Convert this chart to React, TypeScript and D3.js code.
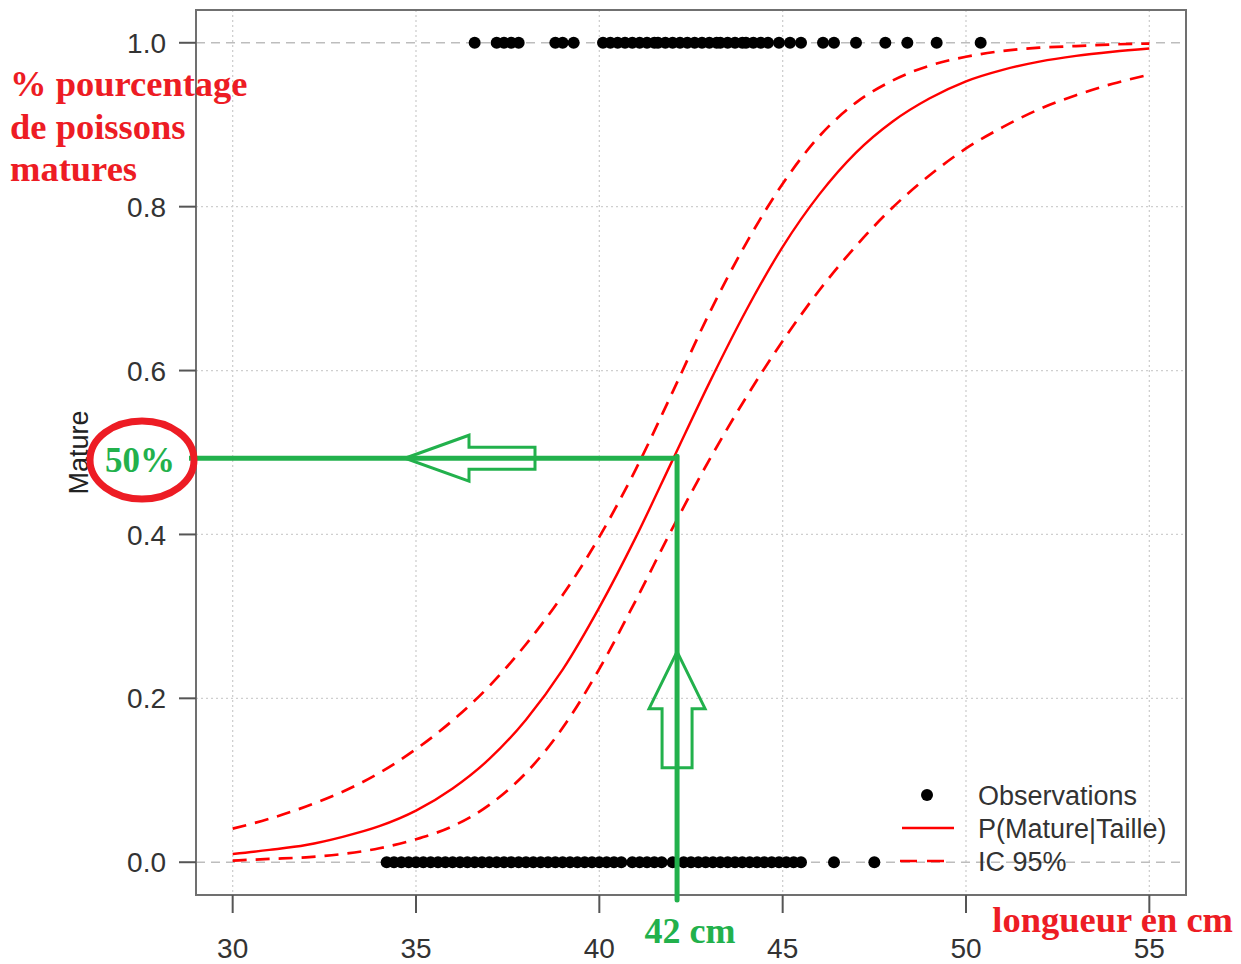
import React, { useRef, useEffect } from "react";
import * as d3 from "d3";

// longueur (cm) et probabilités
const lengths = [30, 31, 32, 33, 34, 35, 36, 37, 38, 39, 40, 41, 42, 43, 44, 45, 46, 47, 48, 49, 50, 51, 52, 53, 54, 55];
const fitted = [0.010, 0.015, 0.021, 0.031, 0.044, 0.063, 0.090, 0.126, 0.174, 0.235, 0.311, 0.397, 0.491, 0.585, 0.673, 0.751, 0.815, 0.866, 0.904, 0.932, 0.953, 0.967, 0.977, 0.984, 0.989, 0.993];
const upperCI = [0.041, 0.053, 0.068, 0.086, 0.109, 0.138, 0.173, 0.215, 0.266, 0.326, 0.397, 0.480, 0.574, 0.670, 0.755, 0.828, 0.886, 0.927, 0.954, 0.972, 0.983, 0.990, 0.994, 0.996, 0.998, 0.999];
const lowerCI = [0.002, 0.004, 0.006, 0.010, 0.017, 0.028, 0.044, 0.070, 0.109, 0.164, 0.236, 0.320, 0.408, 0.491, 0.567, 0.636, 0.698, 0.752, 0.799, 0.838, 0.871, 0.897, 0.919, 0.936, 0.950, 0.961];

// observations
const matureX = [36.6, 37.2, 37.4, 37.6, 37.8, 38.8, 39.0, 39.3, 40.1, 40.3, 40.5, 40.7, 40.9, 41.1, 41.3, 41.5, 41.6, 41.8, 42.0, 42.2, 42.4, 42.6, 42.8, 43.0, 43.2, 43.3, 43.5, 43.7, 43.9, 44.0, 44.2, 44.4, 44.6, 44.9, 45.2, 45.5, 46.1, 46.4, 47.0, 47.8, 48.4, 49.2, 50.4];
const immatureX = [34.2, 34.4, 34.6, 34.8, 35.0, 35.2, 35.4, 35.6, 35.8, 36.0, 36.2, 36.4, 36.6, 36.8, 37.0, 37.2, 37.4, 37.6, 37.8, 38.0, 38.2, 38.4, 38.6, 38.8, 39.0, 39.2, 39.4, 39.6, 39.8, 40.0, 40.2, 40.4, 40.6, 40.9, 41.1, 41.3, 41.5, 41.7, 42.0, 42.3, 42.5, 42.7, 42.9, 43.1, 43.3, 43.5, 43.7, 43.9, 44.1, 44.3, 44.5, 44.7, 44.9, 45.1, 45.3, 45.5, 46.4, 47.5];

const xTicks = [30, 35, 40, 45, 50, 55];
const yTicks = [0, 0.2, 0.4, 0.6, 0.8, 1.0];
const legendLabels = ["Observations", "P(Mature|Taille)", "IC 95%"];

// repères de l'annotation (L50)
const L50 = 42.12;
const P50 = 0.493;

function App() {
  const svgRef = useRef(null);

  useEffect(() => {
    const svg = d3.select(svgRef.current);
    svg.selectAll("*").remove();

    const left = 196, right = 1186, top = 10, bottom = 895;
    const x = d3.scaleLinear().domain([29, 56]).range([left, right]);
    const y = d3.scaleLinear().domain([-0.04, 1.04]).range([bottom, top]);

    const sans = "'Liberation Sans', Arial, sans-serif";
    const serif = "'Liberation Serif', 'Times New Roman', serif";
    const red = "#ff0000";
    const green = "#22b14c";
    const annRed = "#ed1c24";

    // grille
    const grid = svg.append("g");
    grid.selectAll("line.v")
      .data(xTicks)
      .join("line")
      .attr("x1", (d) => x(d)).attr("x2", (d) => x(d))
      .attr("y1", top).attr("y2", bottom)
      .attr("stroke", "#cfcfcf").attr("stroke-width", 1.3)
      .attr("stroke-dasharray", "2 3");
    grid.selectAll("line.h")
      .data(yTicks.filter((d) => d > 0 && d < 1))
      .join("line")
      .attr("x1", left).attr("x2", right)
      .attr("y1", (d) => y(d)).attr("y2", (d) => y(d))
      .attr("stroke", "#cfcfcf").attr("stroke-width", 1.3)
      .attr("stroke-dasharray", "2 3");
    grid.selectAll("line.ref")
      .data([0, 1])
      .join("line")
      .attr("x1", left).attr("x2", right)
      .attr("y1", (d) => y(d)).attr("y2", (d) => y(d))
      .attr("stroke", "#bdbdbd").attr("stroke-width", 1.6)
      .attr("stroke-dasharray", "9 6");

    // courbes
    const line = (vals) =>
      d3.line()
        .x((d, i) => x(lengths[i]))
        .y((d) => y(d))
        .curve(d3.curveMonotoneX)(vals);

    svg.append("path").attr("d", line(upperCI)).attr("fill", "none")
      .attr("stroke", red).attr("stroke-width", 2.7).attr("stroke-dasharray", "14 9");
    svg.append("path").attr("d", line(lowerCI)).attr("fill", "none")
      .attr("stroke", red).attr("stroke-width", 2.7).attr("stroke-dasharray", "14 9");
    svg.append("path").attr("d", line(fitted)).attr("fill", "none")
      .attr("stroke", red).attr("stroke-width", 2.4);

    // observations
    const pts = svg.append("g");
    pts.selectAll("circle.m")
      .data(matureX)
      .join("circle")
      .attr("cx", (d) => x(d)).attr("cy", y(1)).attr("r", 6).attr("fill", "#000");
    pts.selectAll("circle.i")
      .data(immatureX)
      .join("circle")
      .attr("cx", (d) => x(d)).attr("cy", y(0)).attr("r", 6).attr("fill", "#000");

    // cadre
    svg.append("rect")
      .attr("x", left).attr("y", top)
      .attr("width", right - left).attr("height", bottom - top)
      .attr("fill", "none").attr("stroke", "#707070").attr("stroke-width", 2);

    // axe x
    const xAxis = svg.append("g");
    xAxis.selectAll("line")
      .data(xTicks)
      .join("line")
      .attr("x1", (d) => x(d)).attr("x2", (d) => x(d))
      .attr("y1", bottom).attr("y2", bottom + 18)
      .attr("stroke", "#555").attr("stroke-width", 2);
    xAxis.selectAll("text")
      .data(xTicks)
      .join("text")
      .attr("x", (d) => x(d)).attr("y", 958)
      .attr("text-anchor", "middle")
      .attr("font-family", sans).attr("font-size", 28).attr("fill", "#333")
      .text((d) => d);

    // axe y
    const yAxis = svg.append("g");
    yAxis.selectAll("line")
      .data(yTicks)
      .join("line")
      .attr("x1", left - 17).attr("x2", left)
      .attr("y1", (d) => y(d)).attr("y2", (d) => y(d))
      .attr("stroke", "#555").attr("stroke-width", 2);
    yAxis.selectAll("text")
      .data(yTicks)
      .join("text")
      .attr("x", 166).attr("y", (d) => y(d)).attr("dy", "0.36em")
      .attr("text-anchor", "end")
      .attr("font-family", sans).attr("font-size", 28).attr("fill", "#333")
      .text((d) => d3.format(".1f")(d));
    svg.append("text")
      .attr("transform", `translate(88,${y(0.5)}) rotate(-90)`)
      .attr("text-anchor", "middle")
      .attr("font-family", sans).attr("font-size", 27).attr("fill", "#222")
      .text("Mature");

    // légende
    const lg = svg.append("g").attr("font-family", sans).attr("font-size", 27).attr("fill", "#333");
    const lgY = [795, 828, 861];
    lg.append("circle").attr("cx", 927).attr("cy", lgY[0]).attr("r", 6).attr("fill", "#000");
    lg.append("line").attr("x1", 902).attr("x2", 954).attr("y1", lgY[1]).attr("y2", lgY[1])
      .attr("stroke", red).attr("stroke-width", 2.6);
    lg.append("line").attr("x1", 900).attr("x2", 954).attr("y1", lgY[2]).attr("y2", lgY[2])
      .attr("stroke", red).attr("stroke-width", 2.7).attr("stroke-dasharray", "17 10");
    lg.selectAll("text")
      .data(legendLabels)
      .join("text")
      .attr("x", 978).attr("y", (d, i) => lgY[i]).attr("dy", "0.36em")
      .text((d) => d);

    // annotations
    const ann = svg.append("g");
    const ax = x(L50), ay = y(P50);
    ann.append("line").attr("x1", 189).attr("x2", ax + 2).attr("y1", ay).attr("y2", ay)
      .attr("stroke", green).attr("stroke-width", 5);
    ann.append("line").attr("x1", ax).attr("x2", ax).attr("y1", ay - 2).attr("y2", 900)
      .attr("stroke", green).attr("stroke-width", 5).attr("stroke-linecap", "round");

    // flèche gauche (creuse)
    const tipL = x(34.7);
    ann.append("path")
      .attr("d", `M${tipL},${ay} L${tipL + 64},${ay - 23} L${tipL + 64},${ay - 11} L${tipL + 130},${ay - 11} L${tipL + 130},${ay + 11} L${tipL + 64},${ay + 11} L${tipL + 64},${ay + 23} Z`)
      .attr("fill", "none").attr("stroke", green).attr("stroke-width", 3);
    // flèche haut (creuse)
    const tipY = y(0.257);
    ann.append("path")
      .attr("d", `M${ax},${tipY} L${ax + 28},${tipY + 57} L${ax + 15},${tipY + 57} L${ax + 15},${tipY + 116} L${ax - 15},${tipY + 116} L${ax - 15},${tipY + 57} L${ax - 28},${tipY + 57} Z`)
      .attr("fill", "none").attr("stroke", green).attr("stroke-width", 3);

    ann.append("ellipse").attr("cx", 142).attr("cy", 460).attr("rx", 52).attr("ry", 39)
      .attr("fill", "none").attr("stroke", annRed).attr("stroke-width", 7);
    ann.append("text").attr("x", 140).attr("y", 472).attr("text-anchor", "middle")
      .attr("font-family", serif).attr("font-weight", "bold").attr("font-size", 35)
      .attr("fill", green).text("50%");
    ann.append("text").attr("x", 690).attr("y", 943).attr("text-anchor", "middle")
      .attr("font-family", serif).attr("font-weight", "bold").attr("font-size", 36)
      .attr("fill", green).text("42 cm");
    ann.append("text").attr("x", 1233).attr("y", 932).attr("text-anchor", "end")
      .attr("font-family", serif).attr("font-weight", "bold").attr("font-size", 36.5)
      .attr("fill", annRed).text("longueur en cm");
    ann.selectAll("text.t")
      .data(["% pourcentage", "de poissons", "matures"])
      .join("text")
      .attr("x", 10).attr("y", (d, i) => 96 + i * 42.5)
      .attr("font-family", serif).attr("font-weight", "bold").attr("font-size", 36.5)
      .attr("fill", annRed).text((d) => d);
  }, []);

  return (
    <svg ref={svgRef} width={1241} height={964}
      style={{ position: "absolute", left: 0, top: 0, background: "#fff" }} />
  );
}

export default App;
